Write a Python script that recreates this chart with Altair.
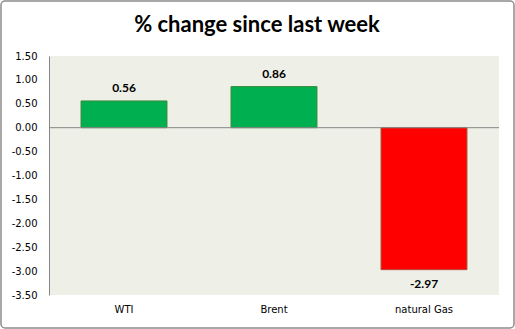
import altair as alt
import pandas as pd

categories = ["WTI", "Brent", "natural Gas"]
values = [0.56, 0.86, -2.97]
labels = ["0.56", "0.86", "-2.97"]
y_ticks = [1.5, 1.0, 0.5, 0.0, -0.5, -1.0, -1.5, -2.0, -2.5, -3.0, -3.5]
title_text = "% change since last week"

df = pd.DataFrame({"cat": categories, "val": values, "lab": labels})
df["sign"] = ["pos" if v >= 0 else "neg" for v in values]

W, H = 450, 239

x_axis = alt.Axis(title=None, labelAngle=0, domain=False, ticks=False,
                  labelPadding=9, labelFont="DejaVu Sans", labelFontSize=10,
                  labelColor="#000000")
y_axis = alt.Axis(title=None, values=y_ticks, grid=False,
                  labelExpr="replace(format(datum.value, '.2f'), '\u2212', '-')",
                  ticks=False, labelPadding=12, domainColor="#868686",
                  labelOverlap=False, labelBound=False, labelFlush=False,
                  labelFont="DejaVu Sans", labelFontSize=10, labelColor="#000000")
x_scale = alt.Scale(paddingInner=0.427, paddingOuter=0.2135)
y_scale = alt.Scale(domain=[-3.5, 1.5], nice=False, zero=False)

def X():
    return alt.X("cat:N", sort=categories, scale=x_scale, axis=x_axis)

def Y(field="val:Q"):
    return alt.Y(field, scale=y_scale, axis=y_axis)

base = alt.Chart(df)

bars = base.mark_bar(strokeWidth=1).encode(
    x=X(),
    y=Y(),
    y2=alt.datum(0),
    color=alt.Color("sign:N", scale=alt.Scale(domain=["pos", "neg"], range=["#00B050", "#FF0000"]), legend=None),
    stroke=alt.Stroke("sign:N", scale=alt.Scale(domain=["pos", "neg"], range=["#3C8A3C", "#B0503A"]), legend=None),
)

zero = alt.Chart(pd.DataFrame({"z": [0]})).mark_rule(color="#868686", strokeWidth=1).encode(
    y=Y("z:Q")
)

txt_pos = base.transform_filter("datum.val >= 0").mark_text(
    baseline="bottom", dy=-6, font="Lato", fontWeight="bold", fontSize=12, color="#000000"
).encode(x=X(), y=Y(), text="lab:N")

txt_neg = base.transform_filter("datum.val < 0").mark_text(
    baseline="top", dy=9, font="Lato", fontWeight="bold", fontSize=12, color="#000000"
).encode(x=X(), y=Y(), text="lab:N")

border = alt.Chart(pd.DataFrame({"b": [0]})).mark_rect(
    fill=None, stroke="#8C8C8C", strokeWidth=1.5, cornerRadius=4
).encode(x=alt.value(-48), x2=alt.value(W + 15), y=alt.value(-55), y2=alt.value(H + 33))

title = alt.Chart(pd.DataFrame({"t": [title_text]})).mark_text(
    font="Lato", fontWeight="bold", fontSize=22, color="#000000", align="center", baseline="middle"
).encode(x=alt.value(208), y=alt.value(-31), text="t:N")

chart = alt.layer(bars, zero, txt_pos, txt_neg, border, title).properties(
    width=W, height=H,
    padding={"left": 49, "top": 56, "right": 16, "bottom": 34},
    autosize=alt.AutoSizeParams(type="none"),
    background="#FFFFFF",
).configure_view(fill="#EEF0E8", stroke=None).configure_axis(labelOverlap=False)

chart.save("out.html", embed_options={"renderer": "svg", "actions": False})
